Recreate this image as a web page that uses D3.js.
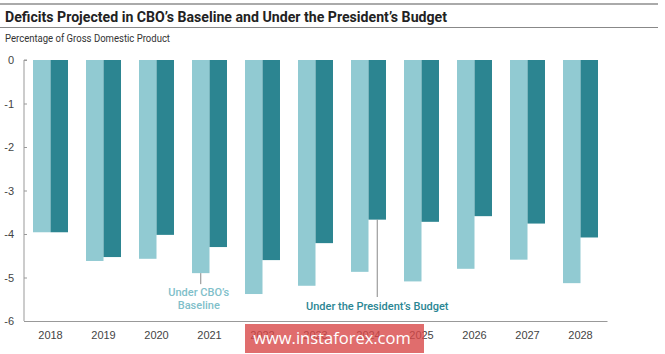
<!DOCTYPE html>
<html>
<head>
<meta charset="utf-8">
<script src="https://cdn.jsdelivr.net/npm/d3@7"></script>
<style>
  body { margin: 0; background: #fff; }
  svg { display: block; font-family: Roboto, "Liberation Sans", sans-serif; }
</style>
</head>
<body>
<div id="chart"></div>
<script>
// Deficits projected in CBO's baseline vs. under the President's budget (% of GDP)
const years = ["2018", "2019", "2020", "2021", "2022", "2023", "2024", "2025", "2026", "2027", "2028"];
const baseline = [-3.96, -4.62, -4.57, -4.90, -5.38, -5.19, -4.87, -5.09, -4.80, -4.59, -5.13];
const president = [-3.96, -4.53, -4.02, -4.30, -4.60, -4.21, -3.67, -3.72, -3.59, -3.76, -4.08];
const yTicks = [0, -1, -2, -3, -4, -5, -6];

const W = 665, H = 354;
const lightColor = "#91cad2", darkColor = "#2c8591";

const svg = d3.select("#chart").append("svg")
  .attr("width", W)
  .attr("height", H);

// header rules and titles
svg.append("rect").attr("x", 0).attr("y", 3).attr("width", 658).attr("height", 2).attr("fill", "#aaaaaa");
svg.append("line").attr("x1", 0).attr("x2", 658).attr("y1", 27.5).attr("y2", 27.5)
  .attr("stroke", "#888").attr("stroke-width", 1);

svg.append("text")
  .attr("x", 5).attr("y", 22)
  .attr("font-size", 15).attr("font-weight", "bold").attr("fill", "#222")
  .attr("textLength", 442).attr("lengthAdjust", "spacingAndGlyphs")
  .text("Deficits Projected in CBO\u2019s Baseline and Under the President\u2019s Budget");

svg.append("text")
  .attr("x", 5).attr("y", 42)
  .attr("font-size", 11).attr("fill", "#333")
  .attr("textLength", 165).attr("lengthAdjust", "spacingAndGlyphs")
  .text("Percentage of Gross Domestic Product");

// scales
const x = d3.scaleBand()
  .domain(years)
  .range([24, 607])
  .paddingInner(0.34)
  .paddingOuter(0.17);

const xs = d3.scaleBand()
  .domain(["baseline", "president"])
  .range([0, x.bandwidth()]);

const y = d3.scaleLinear()
  .domain([0, -6])
  .range([60, 321]);

// bars
const g = svg.append("g");
g.selectAll(".bar-base")
  .data(years)
  .enter().append("rect")
  .attr("class", "bar-base")
  .attr("x", d => x(d) + xs("baseline"))
  .attr("y", y(0))
  .attr("width", xs.bandwidth())
  .attr("height", (d, i) => y(baseline[i]) - y(0))
  .attr("fill", lightColor);

g.selectAll(".bar-pres")
  .data(years)
  .enter().append("rect")
  .attr("class", "bar-pres")
  .attr("x", d => x(d) + xs("president"))
  .attr("y", y(0))
  .attr("width", xs.bandwidth())
  .attr("height", (d, i) => y(president[i]) - y(0))
  .attr("fill", darkColor);

// y axis
const yAxis = svg.append("g")
  .attr("transform", "translate(24,0)")
  .call(d3.axisRight(y).tickValues(yTicks).tickSize(3).tickFormat(d => d));
yAxis.select(".domain").attr("stroke", "#999").attr("d", `M3,${y(0)}H0V${y(-6)}`);
yAxis.selectAll(".tick line").attr("stroke", "#999");
yAxis.selectAll(".tick text")
  .attr("x", -10).attr("text-anchor", "end")
  .attr("font-size", 11).attr("fill", "#444");

// x axis
const xAxis = svg.append("g")
  .attr("transform", `translate(0,${y(-6)})`)
  .call(d3.axisBottom(x).tickSize(0).tickPadding(10));
xAxis.select(".domain").attr("stroke", "#999");
xAxis.selectAll(".tick text").attr("font-size", 11).attr("fill", "#444");

// annotations
const i21 = years.indexOf("2021");
const bx = x("2021") + xs("baseline") + xs.bandwidth() / 2;
svg.append("line")
  .attr("x1", bx).attr("x2", bx)
  .attr("y1", y(baseline[i21])).attr("y2", y(baseline[i21]) + 11)
  .attr("stroke", "#888");
svg.append("text")
  .attr("x", bx - 2).attr("y", 296)
  .attr("text-anchor", "middle").attr("font-size", 11).attr("font-weight", 500)
  .attr("fill", "#7fc0ca")
  .selectAll("tspan")
  .data(["Under CBO\u2019s", "Baseline"])
  .enter().append("tspan")
  .attr("x", bx - 2)
  .attr("dy", (d, k) => k === 0 ? 0 : 13)
  .text(d => d);

const i24 = years.indexOf("2024");
const px = x("2024") + xs("president") + xs.bandwidth() / 2;
svg.append("line")
  .attr("x1", px).attr("x2", px)
  .attr("y1", y(president[i24])).attr("y2", 297)
  .attr("stroke", "#888");
svg.append("text")
  .attr("x", px).attr("y", 310)
  .attr("text-anchor", "middle").attr("font-size", 11).attr("font-weight", 500)
  .attr("fill", "#2b8693")
  .text("Under the President\u2019s Budget");

// watermark
svg.append("rect")
  .attr("x", 245).attr("y", 324).attr("width", 179).attr("height", 29)
  .attr("fill", "#d84848").attr("opacity", 0.8);
svg.append("text")
  .attr("x", 332).attr("y", 344)
  .attr("text-anchor", "middle")
  .attr("font-family", "'Open Sans', sans-serif")
  .attr("font-size", 16.5).attr("fill", "#fff")
  .text("www.instaforex.com");
</script>
</body>
</html>
